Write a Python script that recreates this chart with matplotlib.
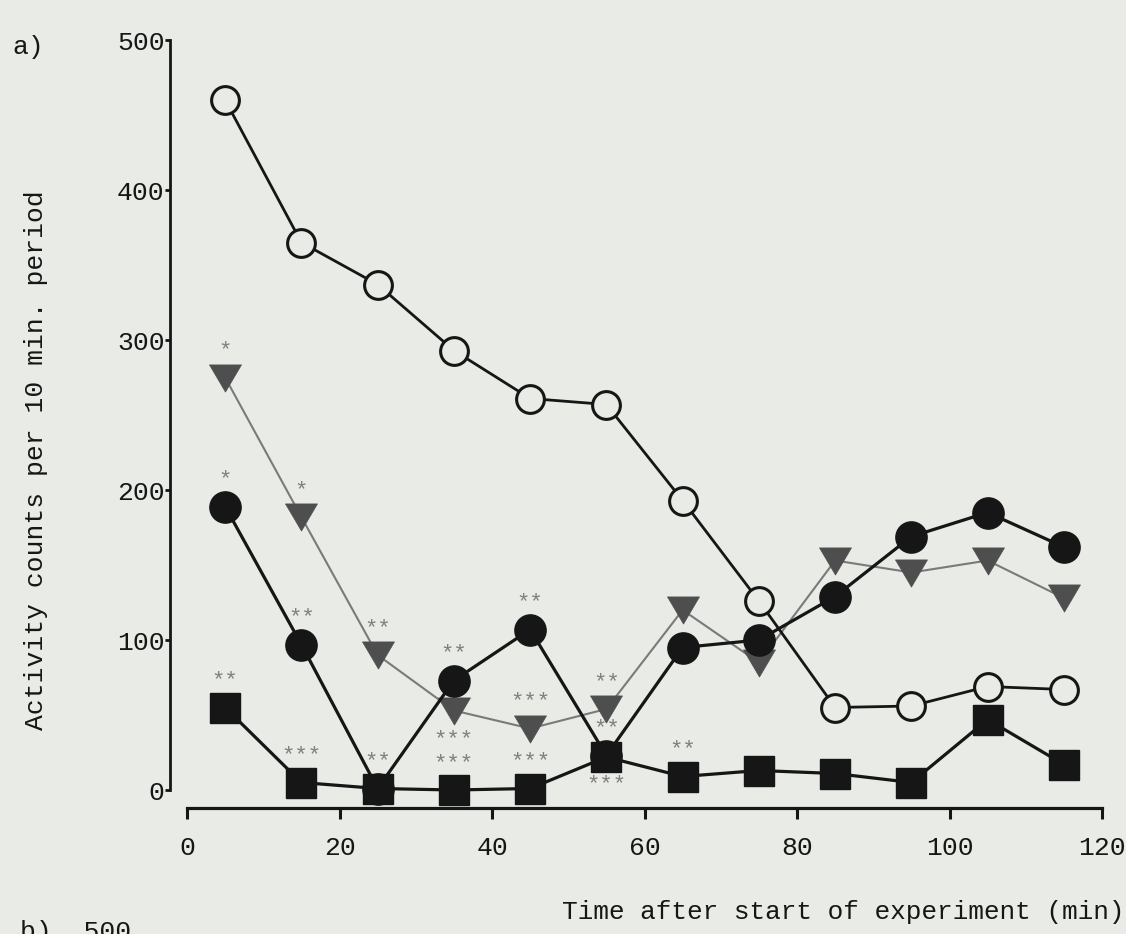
import matplotlib
matplotlib.use("Agg")
import matplotlib.pyplot as plt

# ---------------- data ----------------
time_min = [5, 15, 25, 35, 45, 55, 65, 75, 85, 95, 105, 115]
open_circle = [460, 365, 337, 293, 261, 257, 193, 126, 55, 56, 69, 67]
filled_circle = [189, 97, 1, 73, 107, 23, 95, 100, 129, 169, 185, 162]
triangle = [275, 182, 90, 53, 41, 54, 120, 85, 153, 145, 153, 128]
square = [55, 5, 1, 0, 1, 22, 9, 13, 11, 5, 47, 17]

x_ticks = [0, 20, 40, 60, 80, 100, 120]
y_ticks = [0, 100, 200, 300, 400, 500]

# significance marks: (series, index, text, side)
stars = [
    ("triangle", 0, "*", "above"),
    ("filled", 0, "*", "above"),
    ("triangle", 1, "*", "above"),
    ("filled", 1, "**", "above"),
    ("square", 0, "**", "above"),
    ("triangle", 2, "**", "above"),
    ("square", 1, "***", "above"),
    ("square", 2, "**", "above"),
    ("filled", 3, "**", "above"),
    ("triangle", 3, "***", "below"),
    ("square", 3, "***", "above"),
    ("filled", 4, "**", "above"),
    ("triangle", 4, "***", "above"),
    ("square", 4, "***", "above"),
    ("triangle", 5, "**", "above"),
    ("filled", 5, "**", "above"),
    ("filled", 5, "***", "below"),
    ("square", 6, "**", "above"),
]

# ---------------- style ----------------
plt.rcParams["font.family"] = ["Liberation Mono", "DejaVu Sans"]
BG = "#e8ebe6"
INK = "#161616"
TRI_FILL = "#4e4e4e"
TRI_LINE = "#7a7a7a"
STAR = "#808080"

fig = plt.figure(figsize=(11.26, 9.34), dpi=100, facecolor=BG)
ax = fig.add_axes([187 / 1126, (934 - 790) / 934, (1102 - 187) / 1126, 750 / 934])
ax.set_facecolor(BG)
ax.patch.set_alpha(0)

ax.set_xlim(0, 120)
ax.set_ylim(0, 500)

tri_marker = [(-1, 0.85), (1, 0.85), (0, -0.85), (-1, 0.85)]

ax.plot(time_min, triangle, color=TRI_LINE, lw=1.5, marker=tri_marker, ms=23,
        mfc=TRI_FILL, mec=TRI_FILL, mew=0.5, clip_on=False, zorder=3)
ax.plot(time_min, square, color=INK, lw=2.3, marker="s", ms=21,
        mfc=INK, mec=INK, clip_on=False, zorder=4)
ax.plot(time_min, filled_circle, color=INK, lw=2.3, marker="o", ms=22.5,
        mfc=INK, mec=INK, clip_on=False, zorder=5)
ax.plot(time_min, open_circle, color=INK, lw=2.0, marker="o", ms=20,
        mfc=BG, mec=INK, mew=2.2, clip_on=False, zorder=6)

series = {"triangle": triangle, "filled": filled_circle, "square": square,
          "open": open_circle}
for name, idx, txt, side in stars:
    yv = series[name][idx]
    dy = 19 if side == "above" else -21
    ax.annotate(txt, (time_min[idx], yv), xytext=(0, dy), textcoords="offset points",
                ha="center", va="center", fontsize=16, color=STAR, zorder=7,
                annotation_clip=False)

# spines
for s in ("top", "right"):
    ax.spines[s].set_visible(False)
ax.spines["left"].set_position(("outward", 12.2))
ax.spines["bottom"].set_position(("outward", 13))
ax.spines["left"].set_linewidth(2.0)
ax.spines["bottom"].set_linewidth(2.3)
ax.spines["left"].set_color(INK)
ax.spines["bottom"].set_color(INK)

ax.set_xticks(x_ticks)
ax.set_xticklabels([str(v) for v in x_ticks])
ax.set_yticks(y_ticks)
ax.set_yticklabels([str(v) for v in y_ticks])
ax.tick_params(axis="x", direction="out", length=8, width=2.2, color=INK,
               labelsize=19, pad=12, labelcolor=INK)
ax.tick_params(axis="y", direction="out", length=3.5, width=2.0, color=INK,
               labelsize=19, pad=0.5, labelcolor=INK)

fig.text(843 / 1126, (934 - 912) / 934, "Time after start of experiment (min)",
         ha="center", va="center", fontsize=18.8, color=INK)
fig.text(36 / 1126, (934 - 460) / 934, "Activity counts per 10 min. period",
         ha="center", va="center", rotation=90, fontsize=19, color=INK)
fig.text(28 / 1126, (934 - 47) / 934, "a)", ha="center", va="center",
         fontsize=19, color=INK)
fig.text(20 / 1126, (934 - 920) / 934, "b)  500", ha="left", va="top",
         fontsize=19, color=INK)

fig.savefig("out.png", dpi=100, facecolor=BG)
